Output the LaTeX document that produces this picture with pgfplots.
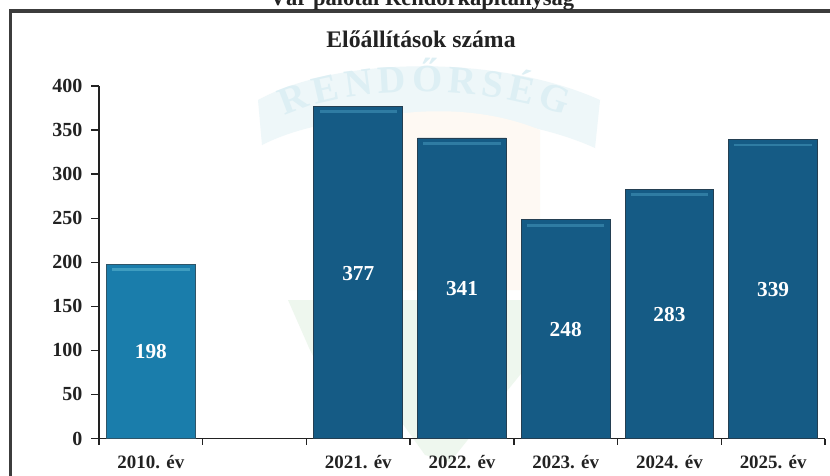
\documentclass[border=0pt]{standalone}
\usepackage{pgfplots}
\pgfplotsset{compat=1.18}
\usepackage{fontspec}
\setmainfont{Liberation Serif}
\usetikzlibrary{decorations.text}
\definecolor{barA}{HTML}{1A7DAB}
\definecolor{barB}{HTML}{155B85}
\definecolor{edgeA}{HTML}{2F5568}
\definecolor{edgeB}{HTML}{243F52}
\definecolor{hiA}{HTML}{3F9DC0}
\definecolor{hiB}{HTML}{2F7CA3}
\definecolor{ink}{HTML}{222222}
\definecolor{frame}{HTML}{3C3C3C}
\definecolor{wmB}{HTML}{EEF7F9}
\definecolor{wmT}{HTML}{DDEFF4}
\definecolor{wmG}{HTML}{EEF7EE}
\definecolor{wmO}{HTML}{FEF9F3}
\begin{document}
\begin{tikzpicture}[x=0.75pt,y=0.75pt]
\useasboundingbox (0,0) rectangle (830,-475);
\clip (0,0) rectangle (830,-475);
\fill[white] (0,0) rectangle (830,-475);
% watermark
\fill[wmB] (258,-100) .. controls (340,-55) and (500,-55) .. (600,-100) -- (595,-148) .. controls (500,-105) and (340,-105) .. (262,-145) -- cycle;
\fill[wmO] (330,-130) .. controls (400,-105) and (480,-105) .. (540,-130) -- (540,-290) -- (330,-290) -- cycle;
\fill[wmG] (288,-300) -- (545,-300) -- (540,-350) -- (450,-462) -- (425,-455) -- (400,-420) -- (335,-400) -- (310,-350) -- cycle;
\path[decorate, decoration={text along path, text align=fit to path, text={|\bfseries\fontsize{29}{29}\selectfont\color{wmT}|RENDŐRSÉG}}]
  (285,-116) .. controls (350,-84) and (490,-84) .. (565,-116);
% frame
\draw[frame, line width=2.6pt] (10.5,-480) -- (10.5,-11) -- (835,-11);
% cut-off headline
\node[font=\bfseries\fontsize{16.9}{18}\selectfont, text=ink, anchor=base] at (422,-5) {Vár palotai Rendőrkapitányság};
\node[font=\bfseries\fontsize{17.8}{20}\selectfont, text=ink, anchor=base] at (421,-47.5) {Előállítások száma};
\begin{axis}[
  at={(74.25pt,-328.875pt)}, anchor=south west,
  scale only axis, width=544.5pt, height=264.4pt,
  xmin=-0.5, xmax=6.5, ymin=0, ymax=400,
  axis lines*=left,
  axis line style={ink, line width=1pt},
  clip=false,
  ytick={0,50,...,400},
  xtick={0,1,2,3,4,5,6},
  xticklabels={2010. év,,2021. év,2022. év,2023. év,2024. év,2025. év},
  major x tick style={draw=none},
  minor xtick={-0.5,0.5,1.5,2.5,3.5,4.5,5.5,6.5},
  minor tick length=4.5pt,
  major tick length=6pt,
  tick align=outside,
  tick style={ink, line width=1pt},
  /pgf/number format/assume math mode=true,
  ticklabel style={font=\bfseries\fontsize{15}{16}\selectfont, text=ink},
  xticklabel style={font=\bfseries\fontsize{14.2}{16}\selectfont, text=ink, yshift=-3.2pt, inner xsep=0pt},
  yticklabel style={xshift=-3pt},
  ybar, bar shift=0pt, bar width=66.5pt,
  nodes near coords style={font=\bfseries\fontsize{16}{17}\selectfont, text=white, anchor=center},
]
\addplot[fill=barA, draw=edgeA, line width=0.7pt, forget plot,
  visualization depends on={y \as \rawy},
  nodes near coords,
  every node near coord/.append style={yshift=-\rawy*0.3305pt-0.5pt}]
  coordinates {(0,198)};
\addplot[fill=barB, draw=edgeB, line width=0.7pt, forget plot,
  visualization depends on={y \as \rawy},
  nodes near coords,
  every node near coord/.append style={yshift=-\rawy*0.3305pt-0.5pt}]
  coordinates {(2,377) (3,341) (4,248) (5,283) (6,339)};
\addplot[only marks, mark=-, mark size=29pt, draw=none, forget plot,
  mark options={draw=hiA, line width=2pt, yshift=-4pt}]
  coordinates {(0,198)};
\addplot[only marks, mark=-, mark size=29pt, draw=none, forget plot,
  mark options={draw=hiB, line width=2pt, yshift=-4pt}]
  coordinates {(2,377) (3,341) (4,248) (5,283) (6,339)};
\end{axis}
\end{tikzpicture}
\end{document}
